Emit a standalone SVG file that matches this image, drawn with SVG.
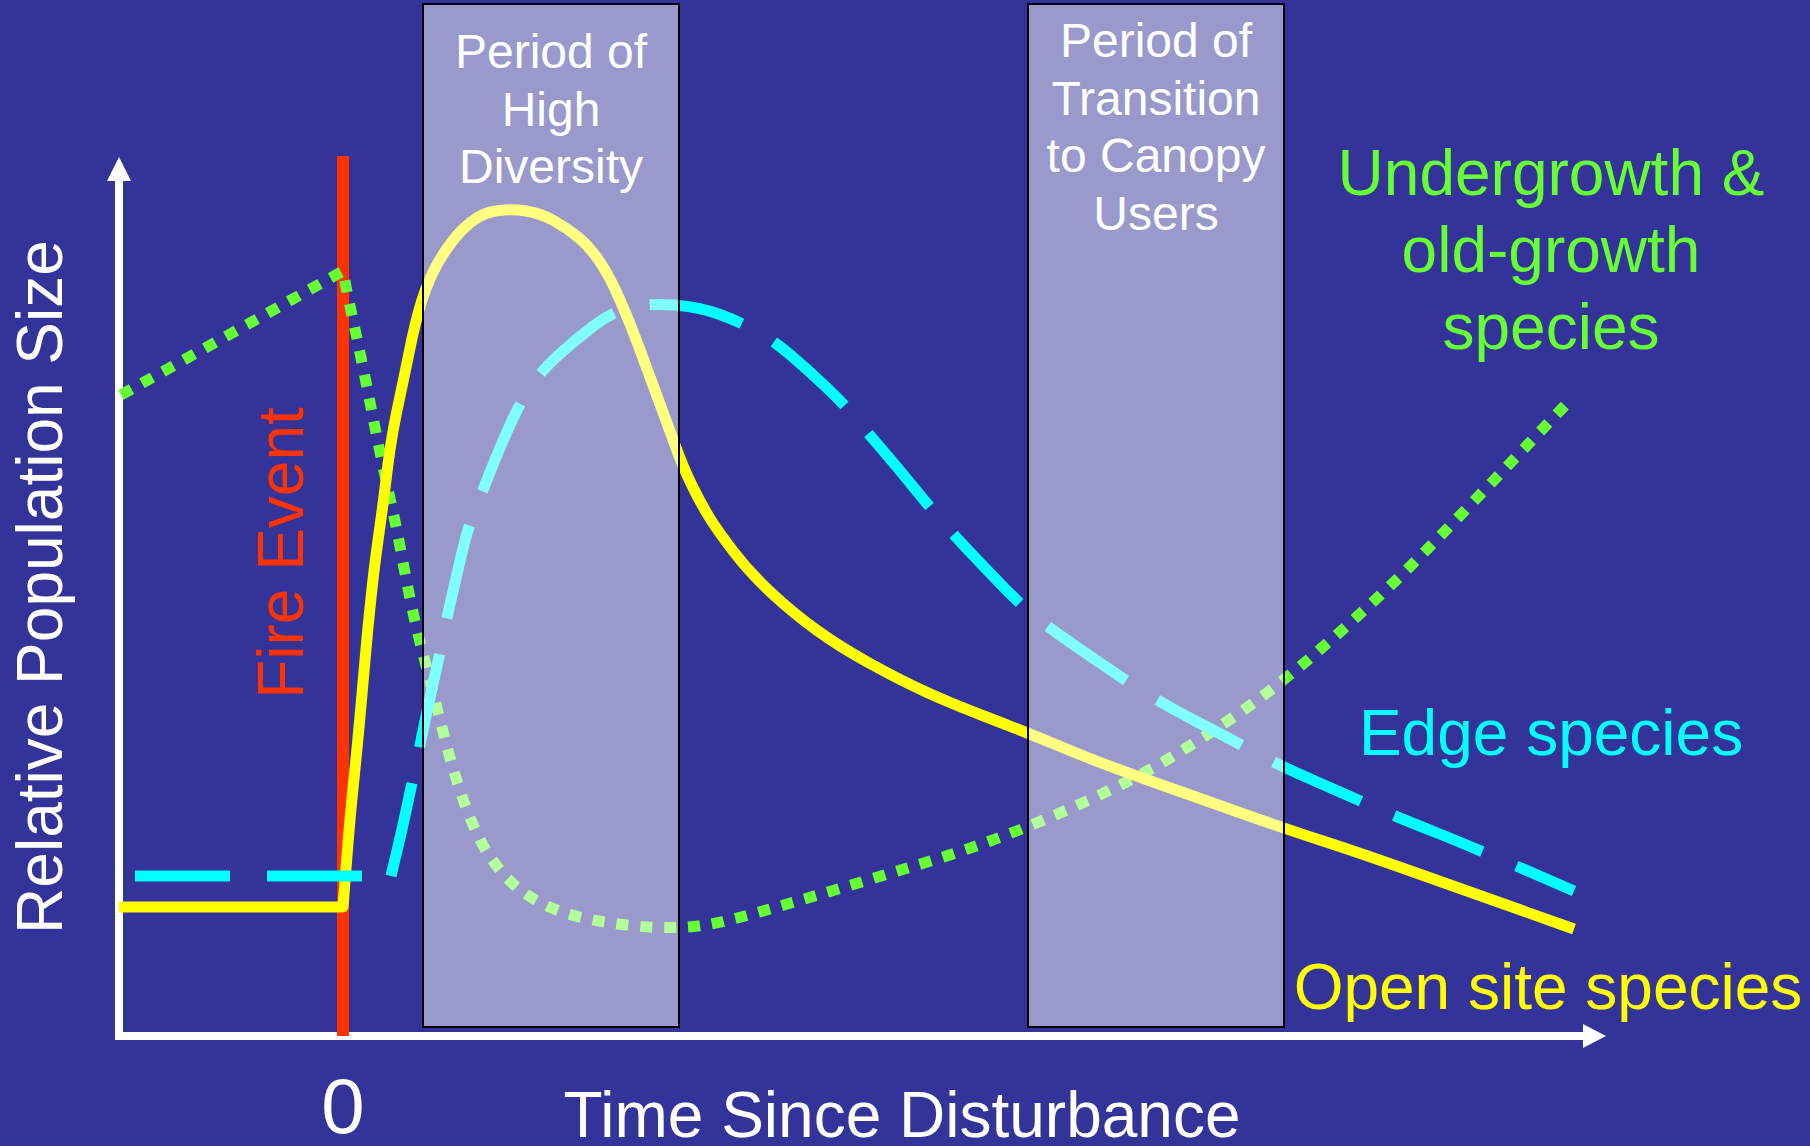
<svg xmlns="http://www.w3.org/2000/svg" width="1810" height="1146" viewBox="0 0 1810 1146">
<style>
text{font-family:"Liberation Sans",Arial,Helvetica,sans-serif}
.lbl{font-size:64px;text-anchor:middle}
.box{font-size:48px;text-anchor:middle;fill:#FFFFFF}
.period{fill:#FFFFFF;fill-opacity:0.5;stroke:#000000;stroke-width:2}
.curve{fill:none;stroke-width:11;stroke-linecap:butt;stroke-linejoin:round}
</style>
<rect x="0" y="0" width="1810" height="1146" fill="#333399"/>
<g id="axes" fill="#FFFFFF">
<line x1="119" y1="1036" x2="119" y2="178" stroke="#FFFFFF" stroke-width="8"/>
<polygon points="119,157 131,181 107,181"/>
<line x1="115" y1="1036" x2="1585" y2="1036" stroke="#FFFFFF" stroke-width="8"/>
<polygon points="1606,1036 1583,1024 1583,1048"/>
<text class="lbl" transform="translate(62,587) rotate(-90)" x="0" y="0">Relative Population Size</text>
<text x="343" y="1133" font-size="78" text-anchor="middle">0</text>
<text class="lbl" x="902" y="1137">Time Since Disturbance</text>
</g>
<g id="fire-event">
<line x1="343" y1="156" x2="343" y2="1036" stroke="#FF3300" stroke-width="12"/>
<text class="lbl" fill="#FF3300" transform="translate(303,553) rotate(-90)" x="0" y="0">Fire Event</text>
</g>
<g id="connectors">
<path id="undergrowth-curve" class="curve" stroke="#66FF33" stroke-width="12" stroke-dasharray="12 12" d="M121,395 L343,271 L345.5,284 Q348,297 353,320 Q358,343 363,367.5 Q368,392 372.5,415 Q377,438 382,461.5 Q387,485 392,507.5 Q397,530 401.5,554.5 Q406,579 411,603 Q416,627 422,650 Q428,673 434,696.5 Q440,720 446,743 Q452,766 459.5,789 Q467,812 477,833.5 Q487,855 502.5,873 Q518,891 539,902 Q560,913 583.5,918 Q607,923 631,925.5 Q655,928 677.5,927.5 Q700,927 725,921 Q750,915 784,905 Q818,895 853,884.5 Q888,874 922.5,863.5 Q957,853 990,841 Q1023,829 1056.5,814.5 Q1090,800 1122.5,784 Q1155,768 1195,742.5 Q1235,717 1264,695 Q1293,673 1320,649.5 Q1347,626 1373.5,601.5 Q1400,577 1425,551.5 Q1450,526 1475,500 Q1500,474 1572,398"/>
<path id="open-site-curve" class="curve" stroke="#FFFF00" d="M119,907 L343,907 L346.5,862 Q350,817 353.5,783.5 Q357,750 360,716.5 Q363,683 365.5,654.5 Q368,626 371,598 Q374,570 376.5,551.5 Q379,533 381.5,515 Q384,497 386,480 Q388,463 390.5,446.5 Q393,430 396.5,413 Q400,396 403.5,379.5 Q407,363 409.5,350.5 Q412,338 415,325.5 Q418,313 421.5,301.5 Q425,290 431,276.5 Q437,263 446,250 Q455,237 462.5,229.5 Q470,222 478.5,217 Q487,212 499.5,210.5 Q512,209 526,211 Q540,213 553.5,220.5 Q567,228 578.5,237.5 Q590,247 600,262 Q610,277 620,300 Q630,323 640,350 Q650,377 658.5,400 Q667,423 675,445 Q683,467 691.5,484.5 Q700,502 708.5,516 Q717,530 733.5,551.5 Q750,573 771.5,593 Q793,613 816.5,630 Q840,647 870,663.5 Q900,680 925,691.5 Q950,703 989,718 Q1028,733 1064,748 Q1100,763 1145,779 Q1190,795 1236.5,811.5 Q1283,828 1321.5,840.5 Q1360,853 1415,872.5 Q1470,892 1574,929"/>
<path id="edge-curve-base" class="curve" stroke="#00FFFF" stroke-dasharray="95 37" d="M135,876 H363"/>
<path id="edge-curve" class="curve" stroke="#00FFFF" stroke-dasharray="95 37" d="M391,876 L396.5,853 Q402,830 407,806.5 Q412,783 414.5,771.5 Q417,760 422.5,733 Q428,706 434,679.5 Q440,653 443.5,635 Q447,617 451.5,597.5 Q456,578 462,552.5 Q468,527 475.5,508.5 Q483,490 491.5,468.5 Q500,447 510,425 Q520,403 530,387.5 Q540,372 557.5,356 Q575,340 593.5,326 Q612,312 630,307.5 Q648,303 674,305 Q700,307 720,314.5 Q740,322 756.5,331 Q773,340 790.5,355 Q808,370 825.5,386.5 Q843,403 855,417.5 Q867,432 882.5,450 Q898,468 913,486.5 Q928,505 940,519 Q952,533 968.5,550.5 Q985,568 1001.5,585 Q1018,602 1031.5,613.5 Q1045,625 1072.5,644 Q1100,663 1127.5,681.5 Q1155,700 1196.5,721.5 Q1238,743 1255,752.5 Q1272,762 1315,781 Q1358,800 1375,807.5 Q1392,815 1436,832.5 Q1480,850 1574,891"/>
</g>
<g id="period-high-diversity">
<rect class="period" x="423" y="4" width="256" height="1023"/>
<text class="box" x="551" y="68">Period of</text>
<text class="box" x="551" y="125.6">High</text>
<text class="box" x="551" y="183.2">Diversity</text>
</g>
<g id="period-transition">
<rect class="period" x="1028" y="4" width="256" height="1023"/>
<text class="box" x="1156" y="57">Period of</text>
<text class="box" x="1156" y="114.6">Transition</text>
<text class="box" x="1156" y="172.2">to Canopy</text>
<text class="box" x="1156" y="229.8">Users</text>
</g>
<g id="label-undergrowth" fill="#66FF33">
<text class="lbl" x="1551" y="195">Undergrowth &amp;</text>
<text class="lbl" x="1551" y="272">old-growth</text>
<text class="lbl" x="1551" y="349">species</text>
</g>
<g id="label-edge"><text class="lbl" fill="#00FFFF" x="1551" y="755">Edge species</text></g>
<g id="label-open-site"><text class="lbl" fill="#FFFF00" x="1548" y="1009">Open site species</text></g>
</svg>
